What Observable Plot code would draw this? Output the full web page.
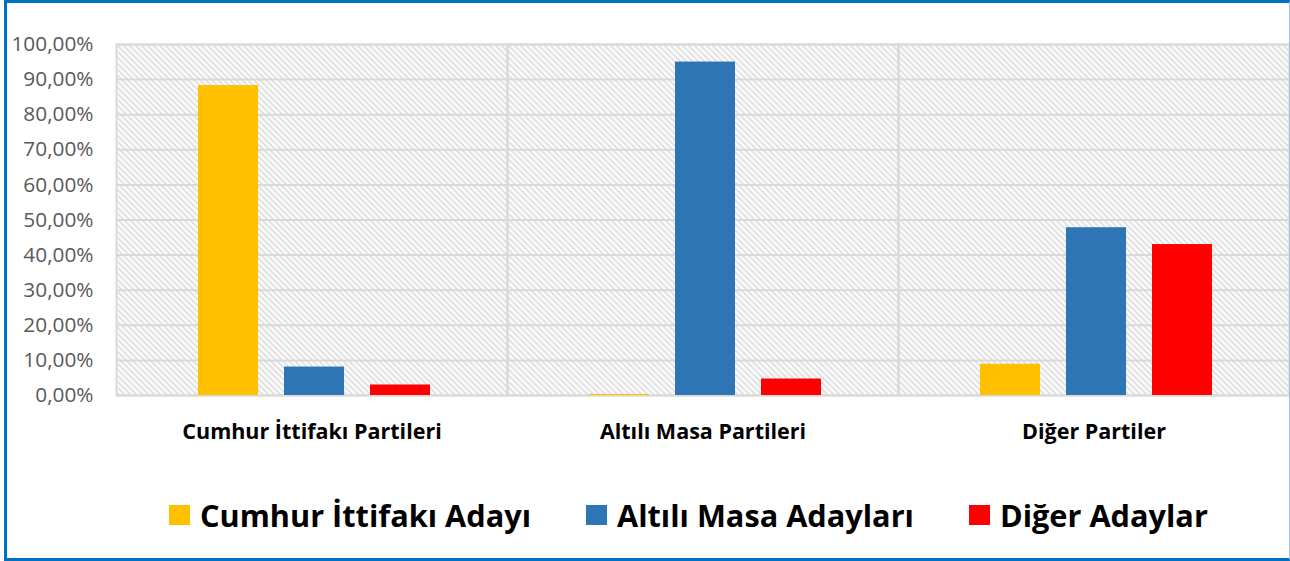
<!DOCTYPE html>
<html>
<head>
<meta charset="utf-8">
<script src="https://cdn.jsdelivr.net/npm/d3@7"></script>
<script src="https://cdn.jsdelivr.net/npm/@observablehq/plot@0.6"></script>
<style>
  html, body { margin: 0; padding: 0; background: #fff; }
  #wrap { position: relative; width: 1290px; height: 561px; overflow: hidden; background: #fff; }
  #border { position: absolute; left: 4px; top: 0; width: 1282px; height: 555px;
    border-top: 3px solid #0070C0; border-left: 3px solid #0070C0; border-bottom: 3px solid #0070C0;
    border-right: 1px solid #9DC3E6; pointer-events: none; z-index: 2; }
  #chart { position: absolute; left: 0; top: 0; }
  #legend { position: absolute; left: 169px; top: 494px; display: flex; align-items: center;
    font-family: "Open Sans", sans-serif; font-weight: 700; font-size: 30.7px; line-height: 42px;
    color: #000; white-space: nowrap; }
  .item { display: flex; align-items: center; margin-right: 55px; }
  .sw { width: 21px; height: 20px; margin-right: 10px; }
</style>
</head>
<body>
<div id="wrap">
  <div id="chart"></div>
  <div id="legend"></div>
  <div id="border"></div>
</div>
<script>
const categories = ["Cumhur İttifakı Partileri", "Altılı Masa Partileri", "Diğer Partiler"];
const series = ["Cumhur İttifakı Adayı", "Altılı Masa Adayları", "Diğer Adaylar"];
const seriesColors = ["#FFC000", "#2E75B6", "#FF0000"];
const cumhurAdayi = [88.3, 0.3, 8.9];
const altiliMasaAdaylari = [8.1, 95.0, 47.8];
const digerAdaylar = [3.0, 4.7, 43.0];
const yTicks = [0, 10, 20, 30, 40, 50, 60, 70, 80, 90, 100];

const seriesValues = [cumhurAdayi, altiliMasaAdaylari, digerAdaylar];
const data = [];
categories.forEach((c, i) => {
  series.forEach((s, j) => data.push({category: c, series: s, value: seriesValues[j][i]}));
});

const grid = "#d9d9d9";
const plot = Plot.plot({
  width: 1290,
  height: 460,
  marginLeft: 116,
  marginRight: 1,
  marginTop: 44,
  marginBottom: 65,
  style: {fontFamily: "'Open Sans', sans-serif", background: "transparent"},
  fx: {domain: categories, padding: 0, label: null, axis: null},
  x: {domain: series, axis: null, paddingInner: 0.302, paddingOuter: 0.924, align: 0.513},
  y: {domain: [0, 100], axis: null},
  color: {domain: series, range: seriesColors},
  marks: [
    Plot.frame({fill: "url(#hatch)", stroke: null}),
    Plot.gridY(yTicks, {stroke: grid, strokeOpacity: 1, strokeWidth: 2}),
    Plot.frame({stroke: grid, strokeWidth: 2}),
    Plot.barY(data, {fx: "category", x: "series", y: "value", fill: "series"}),
    Plot.axisY(yTicks, {
      tickSize: 0, tickPadding: 23, label: null,
      tickFormat: d => d.toFixed(2).replace(".", ",") + "%",
      fontSize: 20.8, fill: "#595959"
    }),
    Plot.axisFx({
      anchor: "bottom", tickSize: 0, tickPadding: 28, label: null,
      fontSize: 21.5, fontWeight: "bold", fill: "#000"
    })
  ]
});

// hatch pattern definition
const svgSel = d3.select(plot);
const defs = svgSel.insert("defs", ":first-child");
const pat = defs.append("pattern").attr("id", "hatch").attr("patternUnits", "userSpaceOnUse")
  .attr("width", 6).attr("height", 6);
pat.append("rect").attr("width", 6).attr("height", 6).attr("fill", "#fff");
pat.append("path").attr("d", "M0,0L6,6M-1,5L1,7M5,-1L7,1")
  .attr("stroke", grid).attr("stroke-width", 1.6).attr("fill", "none");

document.getElementById("chart").appendChild(plot);

// legend
const legend = d3.select("#legend");
series.forEach((s, i) => {
  const it = legend.append("div").attr("class", "item");
  it.append("div").attr("class", "sw").style("background", seriesColors[i]);
  it.append("span").text(s);
});
</script>
</body>
</html>
